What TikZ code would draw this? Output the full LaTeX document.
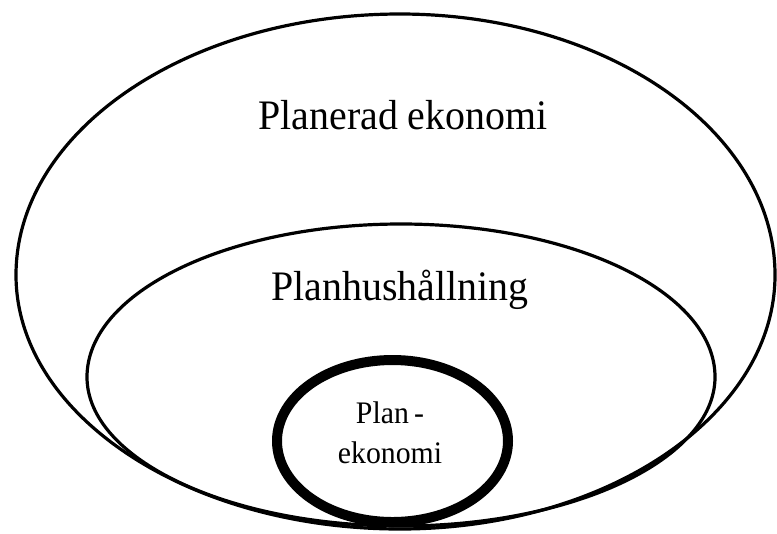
\documentclass[tikz,border=0pt]{standalone}
\usepackage{fontspec}
\setmainfont{Liberation Serif}[FakeStretch=0.95]
\usepackage{tikz}

\begin{document}
\begin{tikzpicture}[x=0.75pt,y=-0.75pt,
		ring/.style={line width=2.4pt},
		thickring/.style={line width=7.5pt},
		bigtext/.style={anchor=base,inner sep=0pt,font=\fontsize{31.5}{36}\selectfont},
		smalltext/.style={anchor=base,inner sep=0pt,font=\fontsize{23.5}{28}\selectfont}]
	
		\useasboundingbox (0,0) rectangle (777,533);
		
		% Planerad ekonomi
		\draw[ring] (400,14) .. controls (607,14) and (775,131) .. (775,275)
			.. controls (775,415) and (607,529) .. (400,529)
			.. controls (188,529) and (16,415) .. (16,275)
			.. controls (16,131) and (188,14) .. (400,14) -- cycle;
		
		% Planhushallning
		\draw[ring] (401,224) .. controls (574,224) and (715,292) .. (715,377)
			.. controls (715,459) and (574,526) .. (401,526)
			.. controls (228,526) and (87,459) .. (87,377)
			.. controls (87,292) and (228,224) .. (401,224) -- cycle;
		
		% Planekonomi
		\draw[thickring] (392.5,441) ellipse [x radius=115.5, y radius=81];
		
		\node[bigtext] (planerad) at (403,129) {Planerad ekonomi};
		\node[bigtext] (planhush) at (400,300) {Planhushållning};
		\node[smalltext] (plan) at (390,423) {Plan\,-};
		\node[smalltext] (ekonomi) at (390,463) {ekonomi};
		
	\end{tikzpicture}
\end{document}
